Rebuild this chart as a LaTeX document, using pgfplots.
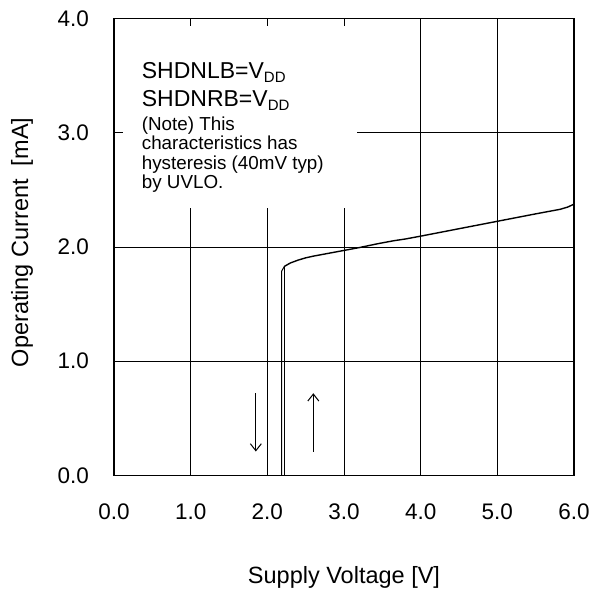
\documentclass[border=0pt]{standalone}
\usepackage{fontspec}
\setmainfont{Liberation Sans}
\usepackage{pgfplots}
\pgfplotsset{compat=1.18}
\usetikzlibrary{arrows.meta}

\begin{document}
\begin{tikzpicture}
\path[use as bounding box] (-114pt,-115.5pt) rectangle (475pt,475.5pt);
\begin{axis}[
  at={(0,0)}, anchor=south west,
  scale only axis, width=460pt, height=457pt,
  xmin=0, xmax=6, ymin=0, ymax=4,
  xtick={0,1,...,6}, ytick={0,1,...,4},
  grid=major, major grid style={black, line width=0.9pt},
  axis line style={black, line width=1.4pt},
  major tick length=0pt,
  /pgf/number format/assume math mode=true,
  /pgf/number format/fixed, /pgf/number format/fixed zerofill, /pgf/number format/precision=1,
  xticklabel style={font=\fontsize{22.5}{26}\selectfont, anchor=base, inner sep=0pt, yshift=-43.5pt},
  yticklabel style={font=\fontsize{22.5}{26}\selectfont, anchor=east, inner sep=0pt, xshift=-25pt},
  xlabel={Supply Voltage [V]},
  ylabel={Operating Current\ \ [mA]},
  xlabel style={font=\fontsize{23.5}{26}\selectfont, at={(axis description cs:0.5,-0.2374)}, anchor=base, inner sep=0pt},
  ylabel style={font=\fontsize{23.5}{26}\selectfont, at={(axis description cs:-0.2,0.51)}, anchor=center, inner sep=0pt},
]
% rising branch (vertical part)
\addplot[black, line width=1pt, line join=round] coordinates {
  (0,0) (2.222,0) (2.222,1.83)
};
% common upper curve
\addplot[black, line width=1.4pt, line join=round] coordinates {
  (2.222,1.83) (2.30,1.86) (2.40,1.885) (2.50,1.905) (2.60,1.92)
  (2.80,1.945) (3.00,1.97) (3.20,1.995) (3.45,2.03) (3.65,2.055) (3.80,2.07)
  (4.00,2.095) (4.50,2.16) (5.00,2.225) (5.50,2.29) (5.82,2.33) (5.92,2.35) (6.00,2.375)
};
% falling branch
\addplot[black, line width=1pt, line join=round] coordinates {
  (2.222,1.83) (2.188,1.79) (2.188,0)
};
% note box
\fill[white] (axis cs:0.12,2.34) rectangle (axis cs:3.17,3.93);
\node[anchor=base west, inner sep=0pt, font=\fontsize{23}{26}\selectfont] at (axis cs:0.361,3.477) {SHDNLB=V\raisebox{-4pt}{\fontsize{15}{15}\selectfont DD}};
\node[anchor=base west, inner sep=0pt, font=\fontsize{23}{26}\selectfont] at (axis cs:0.361,3.228) {SHDNRB=V\raisebox{-4pt}{\fontsize{15}{15}\selectfont DD}};
\node[anchor=base west, inner sep=0pt, font=\fontsize{18.8}{20}\selectfont] at (axis cs:0.361,3.024) {(Note) This};
\node[anchor=base west, inner sep=0pt, font=\fontsize{18.8}{20}\selectfont] at (axis cs:0.361,2.855) {characteristics has};
\node[anchor=base west, inner sep=0pt, font=\fontsize{18.8}{20}\selectfont] at (axis cs:0.361,2.680) {hysteresis (40mV typ)};
\node[anchor=base west, inner sep=0pt, font=\fontsize{18.8}{20}\selectfont] at (axis cs:0.361,2.514) {by UVLO.};
% arrows
\draw[line width=1pt, -{Straight Barb[length=7pt,width=11pt]}] (axis cs:1.85,0.72) -- (axis cs:1.85,0.21);
\draw[line width=1pt, -{Straight Barb[length=7pt,width=11pt]}] (axis cs:2.60,0.21) -- (axis cs:2.60,0.72);
\end{axis}
\end{tikzpicture}
\end{document}
